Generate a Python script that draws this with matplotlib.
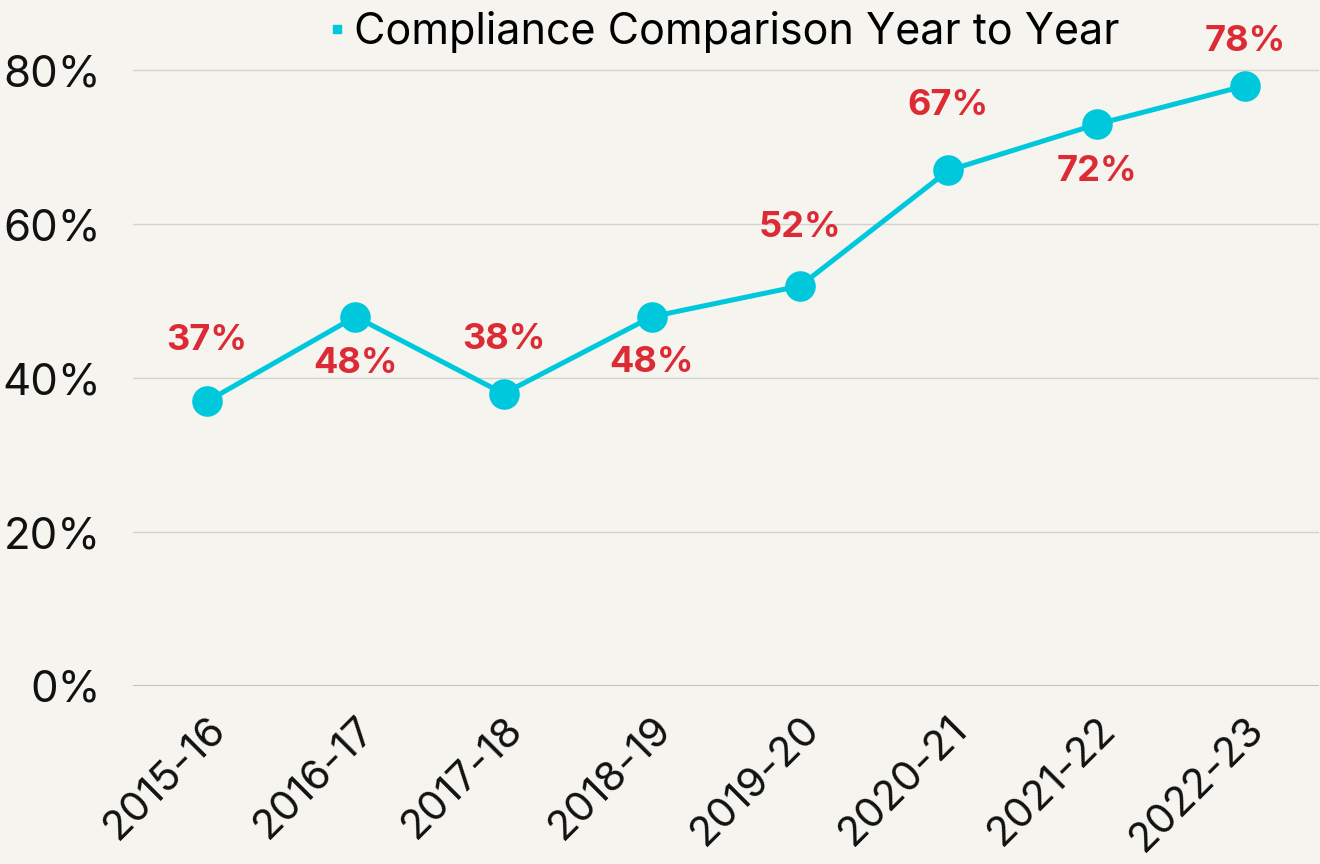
import matplotlib
matplotlib.use("Agg")
import matplotlib.pyplot as plt
from matplotlib.lines import Line2D

years = ["2015-16", "2016-17", "2017-18", "2018-19", "2019-20", "2020-21", "2021-22", "2022-23"]
compliance = [37, 48, 38, 48, 52, 67, 73, 78]
value_labels = ["37%", "48%", "38%", "48%", "52%", "67%", "72%", "78%"]
series_name = "Compliance Comparison Year to Year"
y_ticks = [0, 20, 40, 60, 80]

# layout: label offsets in points (positive = above the marker)
label_offsets = [44, -34, 39, -33, 42, 47, -34, 32]

plt.rcParams['font.family'] = ['Inter', 'DejaVu Sans']
bg = "#F5F4EE"
cyan = "#00C8DC"
red = "#DC2B35"

fig = plt.figure(figsize=(13.2, 8.64), dpi=100, facecolor=bg)
ax = fig.add_axes([133/1320, 1-686/864, 1186/1320, (686-32)/864])
ax.set_facecolor(bg)

x = list(range(len(years)))
ax.plot(x, compliance, color=cyan, lw=3.6, marker='o', markersize=21, zorder=3, clip_on=False)

for xi, yi, lab, off in zip(x, compliance, value_labels, label_offsets):
    ax.annotate(lab, (xi, yi), xytext=(0, off), textcoords='offset points',
                ha='center', va='center', color=red, fontsize=26, fontweight='bold', zorder=4)

ax.set_xlim(-0.5, len(years) - 0.5)
ax.set_ylim(0, 85)
ax.set_yticks(y_ticks)
ax.set_yticklabels([f"{t}%" for t in y_ticks])
ax.set_xticks(x)
ax.set_xticklabels(years, rotation=45, ha='right', rotation_mode='anchor')
ax.tick_params(axis='y', length=0, labelsize=31.5, colors='#111111', pad=23)
ax.tick_params(axis='x', length=0, labelsize=30, colors='#111111', pad=17)

for t in y_ticks:
    ax.axhline(t, color='#B5B5B5' if t == 0 else '#D2D2D0', lw=1.2 if t == 0 else 1.0, zorder=1)
for s in ax.spines.values():
    s.set_visible(False)

handle = Line2D([], [], color=cyan, marker='s', linestyle='none', markersize=6)
fig.legend([handle], [series_name], loc='center', bbox_to_anchor=(722/1320, 1-32/864),
           frameon=False, fontsize=31, handletextpad=0.1, handlelength=0.6, borderaxespad=0)

fig.savefig("out.png", dpi=100, facecolor=bg)
